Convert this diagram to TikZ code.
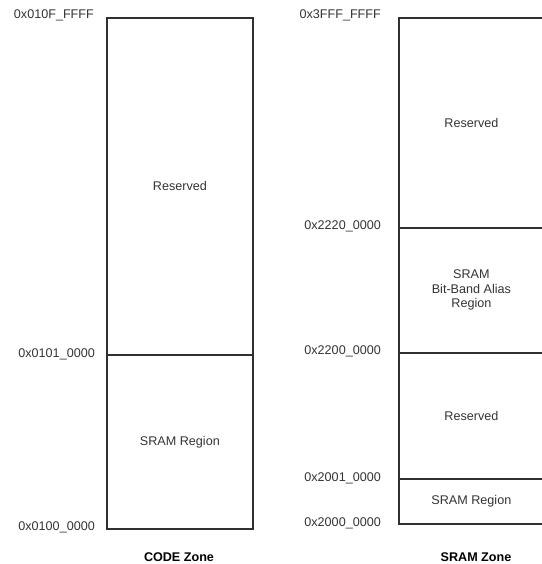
\documentclass[tikz,border=0pt]{standalone}
\usepackage{fontspec}
\setmainfont{Liberation Sans}
\definecolor{linec}{HTML}{303030}
\definecolor{textc}{HTML}{333333}
\begin{document}
\begin{tikzpicture}[x=1pt,y=-1pt,
  region/.style={draw=linec, line width=1.8pt, rectangle, inner sep=0pt, anchor=north west,
    align=center, text=textc, font=\fontsize{12.6}{14.5}\selectfont},
  addr/.style={anchor=east, inner sep=0pt, text=textc, font=\fontsize{12.6}{14}\selectfont},
  zone/.style={anchor=center, inner sep=0pt, text=black, font=\fontsize{12.6}{14}\selectfont\bfseries}]
\useasboundingbox (0,0) rectangle (541,564);
% CODE zone
\node[region, minimum width=146pt, minimum height=337pt] (codeRes) at (106,17) {Reserved};
\node[region, minimum width=146pt, minimum height=174pt] (codeSram) at (106,354) {SRAM Region};
\node[addr] (a1) at (94,15) {0x010F\_FFFF};
\node[addr] (a2) at (95,354) {0x0101\_0000};
\node[addr] (a3) at (95,527) {0x0100\_0000};
\node[zone] (codeZone) at (179,557) {CODE Zone};
% SRAM zone
\node[region, minimum width=145pt, minimum height=210pt] (sramRes1) at (398,17) {Reserved};
\node[region, minimum width=145pt, minimum height=125pt] (alias) at (398,227) {SRAM\\Bit-Band Alias\\Region};
\node[region, minimum width=145pt, minimum height=126pt] (sramRes2) at (398,352) {Reserved};
\node[region, minimum width=145pt, minimum height=45pt] (sramReg) at (398,478) {SRAM Region};
\node[addr] (b1) at (381,15) {0x3FFF\_FFFF};
\node[addr] (b2) at (381,226) {0x2220\_0000};
\node[addr] (b3) at (381,351) {0x2200\_0000};
\node[addr] (b4) at (381,478) {0x2001\_0000};
\node[addr] (b5) at (381,523) {0x2000\_0000};
\node[zone] (sramZone) at (476,557) {SRAM Zone};
\end{tikzpicture}
\end{document}
